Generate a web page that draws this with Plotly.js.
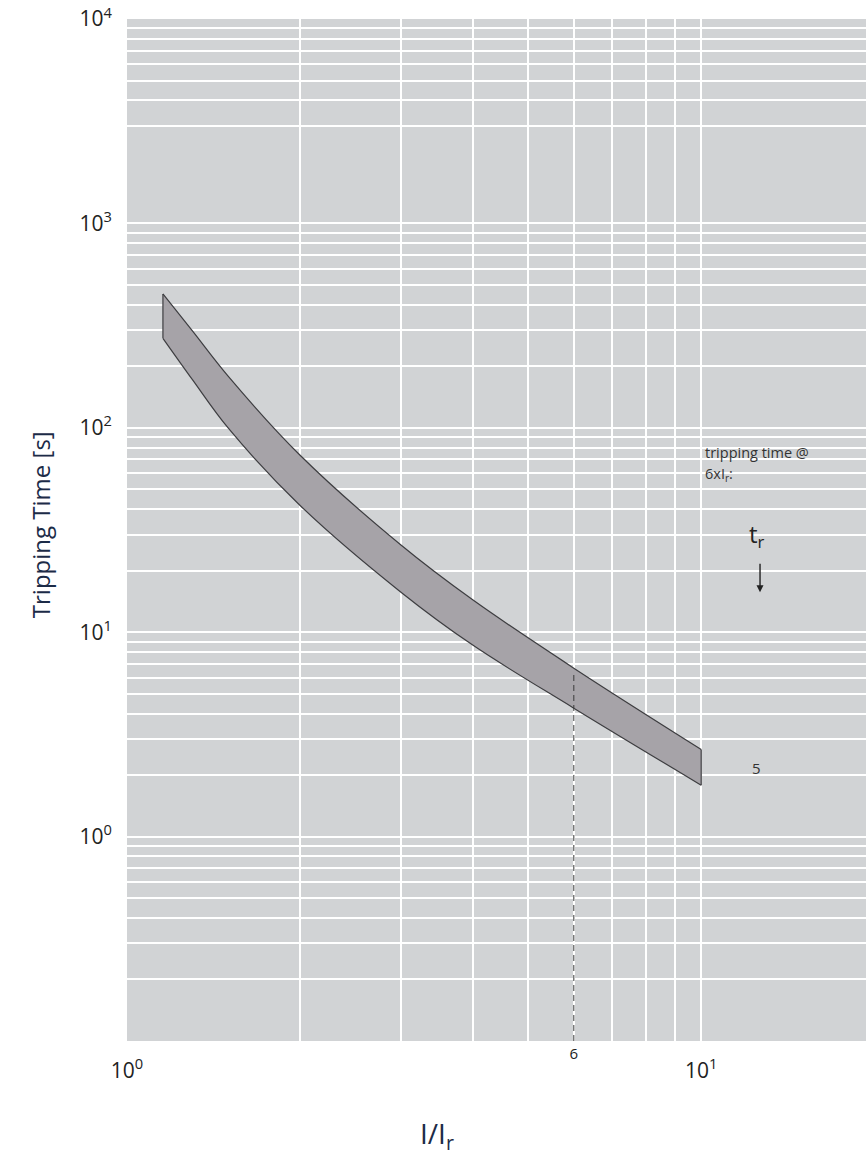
<!DOCTYPE html>
<html>
<head>
<meta charset="utf-8">
<script src="https://cdn.plot.ly/plotly-3.0.1.min.js"></script>
<style>html,body{margin:0;padding:0;background:#fff;}#chart{width:866px;height:1158px;}</style>
</head>
<body>
<div id="chart"></div>
<script>
// ---- data ----
const upperI = [1.155, 1.3, 1.5, 2, 3, 4, 6, 10];
const upperT = [452, 298, 179, 73.6, 26.7, 14.4, 6.67, 2.67];
const lowerI = [1.155, 1.3, 1.5, 2, 3, 4, 6, 10];
const lowerT = [274, 172, 99.8, 41.8, 15.7, 8.65, 4.25, 1.785];
const markI = [6, 6];
const markT = [0.1, 6.2];

const xMajorVals = [1, 10];
const xMajorText = ['10<sup>0</sup>', '10<sup>1</sup>'];
const xMinorVals = [2, 3, 4, 5, 6, 7, 8, 9];
const xSecondVals = [6];
const xSecondText = ['6'];
const yMajorVals = [1, 10, 100, 1000, 10000];
const yMajorText = ['10<sup>0</sup>', '10<sup>1</sup>', '10<sup>2</sup>', '10<sup>3</sup>', '10<sup>4</sup>'];
const yMinorVals = [0.2,0.3,0.4,0.5,0.6,0.7,0.8,0.9, 2,3,4,5,6,7,8,9, 20,30,40,50,60,70,80,90,
                    200,300,400,500,600,700,800,900, 3000,4000,5000,6000,7000,8000,9000];

const n = upperI.length;
const FONT = 'Open Sans, Noto Sans, sans-serif';
const NAVY = '#1c2b47';
const EDGE = '#3d3d40';

const traces = [
  { // lower bound
    x: lowerI, y: lowerT, type: 'scatter', mode: 'lines',
    line: {color: EDGE, width: 1.2, shape: 'spline', smoothing: 1},
    hoverinfo: 'skip', showlegend: false
  },
  { // upper bound, band filled down to lower bound
    x: upperI, y: upperT, type: 'scatter', mode: 'lines',
    fill: 'tonexty', fillcolor: '#a6a3a8',
    line: {color: EDGE, width: 1.2, shape: 'spline', smoothing: 1},
    hoverinfo: 'skip', showlegend: false
  },
  { // left edge of band
    x: [lowerI[0], upperI[0]], y: [lowerT[0], upperT[0]], type: 'scatter', mode: 'lines',
    line: {color: EDGE, width: 1.2}, hoverinfo: 'skip', showlegend: false
  },
  { // right edge of band
    x: [lowerI[n - 1], upperI[n - 1]], y: [lowerT[n - 1], upperT[n - 1]], type: 'scatter', mode: 'lines',
    line: {color: EDGE, width: 1.2}, hoverinfo: 'skip', showlegend: false
  },
  { // dashed marker at 6 x Ir
    x: markI, y: markT, type: 'scatter', mode: 'lines',
    line: {color: '#3a3a3a', width: 1, dash: '6px,4px'},
    hoverinfo: 'skip', showlegend: false
  },
  { // carrier for the secondary x axis ("6" label)
    x: xSecondVals, y: [markT[0]], xaxis: 'x2', type: 'scatter', mode: 'markers',
    marker: {opacity: 0}, hoverinfo: 'skip', showlegend: false
  }
];

const layout = {
  width: 866, height: 1158,
  margin: {l: 127, r: 0, t: 19, b: 117, pad: 0},
  paper_bgcolor: '#ffffff',
  plot_bgcolor: '#d1d3d5',
  showlegend: false,
  font: {family: FONT, color: '#222'},
  xaxis: {
    type: 'log', range: [0, 1.287], fixedrange: true,
    tickmode: 'array', tickvals: xMajorVals, ticktext: xMajorText,
    showgrid: true, gridcolor: '#ffffff', gridwidth: 2,
    minor: {tickmode: 'array', tickvals: xMinorVals, showgrid: true, gridcolor: '#ffffff', gridwidth: 2, ticks: ''},
    zeroline: false, showline: false, ticks: '',
    ticklabelstandoff: 15,
    tickfont: {family: FONT, size: 21, color: '#222'}
  },
  xaxis2: {
    type: 'log', range: [0, 1.287], overlaying: 'x', anchor: 'y', side: 'bottom',
    tickmode: 'array', tickvals: xSecondVals, ticktext: xSecondText,
    showgrid: false, zeroline: false, showline: false, ticks: '',
    ticklabelstandoff: 2,
    tickfont: {family: FONT, size: 15, color: '#222'}
  },
  yaxis: {
    type: 'log', range: [-1, 4], fixedrange: true,
    tickmode: 'array', tickvals: yMajorVals, ticktext: yMajorText,
    showgrid: true, gridcolor: '#ffffff', gridwidth: 2,
    minor: {tickmode: 'array', tickvals: yMinorVals, showgrid: true, gridcolor: '#ffffff', gridwidth: 2, ticks: ''},
    zeroline: false, showline: false, ticks: '',
    ticklabelstandoff: 14,
    tickfont: {family: FONT, size: 21, color: '#222'}
  },
  annotations: [
    {text: 'Tripping Time [s]', xref: 'paper', yref: 'paper', x: -0.116, y: 0.505,
     textangle: -90, showarrow: false, xanchor: 'center', yanchor: 'middle',
     font: {family: FONT, size: 24, color: NAVY}},
    {text: 'I/I<sub>r</sub>', xref: 'paper', yref: 'paper', x: 0.4195, y: -0.092,
     showarrow: false, xanchor: 'center', yanchor: 'middle',
     font: {family: FONT, size: 28, color: NAVY}},
    {text: 'tripping time @', xref: 'paper', yref: 'paper', x: 0.7794, y: 0.5762,
     showarrow: false, xanchor: 'left', yanchor: 'middle',
     font: {family: FONT, size: 14.5, color: '#333'}},
    {text: '6xI<sub>r</sub>:', xref: 'paper', yref: 'paper', x: 0.7794, y: 0.5545,
     showarrow: false, xanchor: 'left', yanchor: 'middle',
     font: {family: FONT, size: 14.5, color: '#333'}},
    {text: 't<sub>r</sub>', xref: 'paper', yref: 'paper', x: 0.8525, y: 0.495,
     showarrow: false, xanchor: 'center', yanchor: 'middle',
     font: {family: FONT, size: 24, color: '#222'}},
    {text: '', xref: 'paper', yref: 'paper', x: 0.8566, y: 0.4392,
     showarrow: true, ax: 0, ay: -30, arrowhead: 2, arrowsize: 1, arrowwidth: 1.4, arrowcolor: '#222'},
    {text: '5', xref: 'paper', yref: 'paper', x: 0.8525, y: 0.267,
     showarrow: false, xanchor: 'center', yanchor: 'middle',
     font: {family: FONT, size: 15, color: '#333'}}
  ]
};

Plotly.newPlot('chart', traces, layout, {staticPlot: true, displayModeBar: false});
</script>
</body>
</html>
